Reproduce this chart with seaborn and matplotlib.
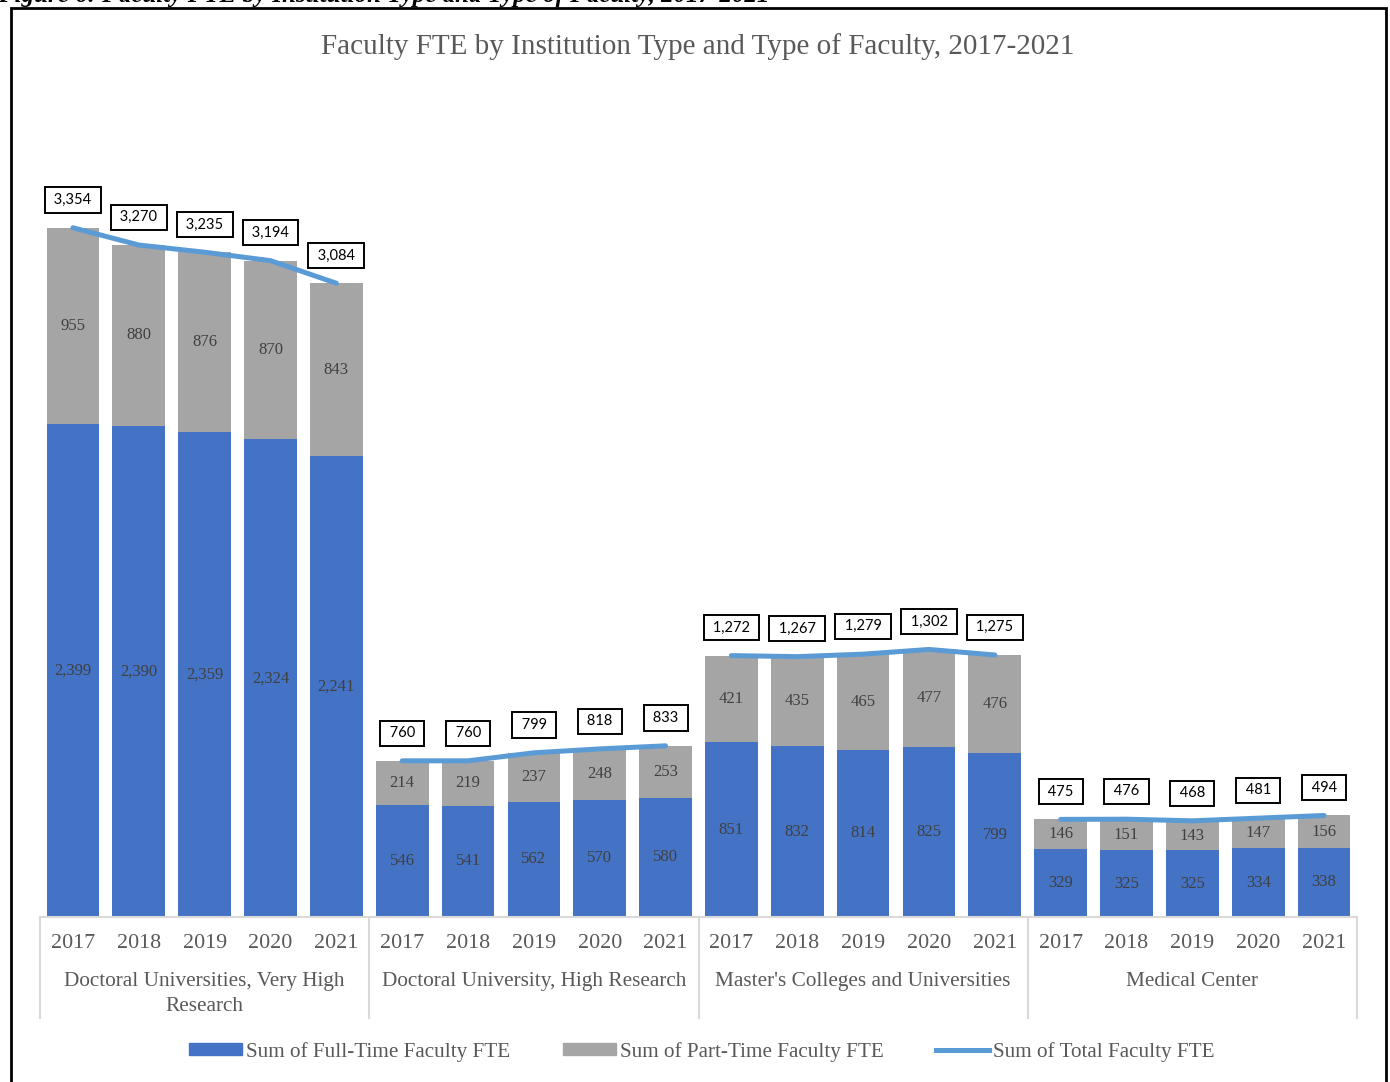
import numpy as np
import pandas as pd
import matplotlib
matplotlib.use("Agg")
import matplotlib.pyplot as plt
import matplotlib.transforms as mtransforms
from matplotlib.patches import Patch, Rectangle
from matplotlib.lines import Line2D
import seaborn as sns

# Data
groups = ["Doctoral Universities, Very High\nResearch",
          "Doctoral University, High Research",
          "Master's Colleges and Universities",
          "Medical Center"]
years = ["2017", "2018", "2019", "2020", "2021"]
full_time = [2399, 2390, 2359, 2324, 2241,
             546, 541, 562, 570, 580,
             851, 832, 814, 825, 799,
             329, 325, 325, 334, 338]
part_time = [955, 880, 876, 870, 843,
             214, 219, 237, 248, 253,
             421, 435, 465, 477, 476,
             146, 151, 143, 147, 156]
total = [3354, 3270, 3235, 3194, 3084,
         760, 760, 799, 818, 833,
         1272, 1267, 1279, 1302, 1275,
         475, 476, 468, 481, 494]

BLUE = "#4472C4"
GRAY = "#A5A5A5"
LINE = "#5B9BD5"
TXT = "#595959"
SERIF = "Liberation Serif"

df = pd.DataFrame({
    "pos": np.arange(len(total)),
    "group": np.repeat(np.arange(len(groups)), len(years)),
    "year": years * len(groups),
    "full": full_time,
    "part": part_time,
    "total": total,
})
df["stack"] = df["full"] + df["part"]

W, H = 1390, 1082
fig = plt.figure(figsize=(W / 100, H / 100), dpi=100)
ax = fig.add_axes([40 / W, 1 - 917 / H, (1357 - 40) / W, (917 - 95) / H])

# stacked bars: full+part in gray, then full-time over it in blue
sns.barplot(data=df, x="pos", y="stack", native_scale=True, color=GRAY,
            saturation=1, width=0.8, errorbar=None, linewidth=0, ax=ax)
sns.barplot(data=df, x="pos", y="full", native_scale=True, color=BLUE,
            saturation=1, width=0.8, errorbar=None, linewidth=0, ax=ax)
sns.lineplot(data=df, x="pos", y="total", units="group", estimator=None,
             color=LINE, lw=3.6, sort=False, legend=False, ax=ax,
             solid_capstyle="round")

ax.set_xlim(-0.5, len(total) - 0.5)
ax.set_ylim(0, 4000)
ax.set_xticks([])
ax.set_yticks([])
ax.set_xlabel("")
ax.set_ylabel("")
for s in ax.spines.values():
    s.set_visible(False)

# value labels
for _, r in df.iterrows():
    ax.text(r.pos, r.full / 2, f"{r.full:,}", ha="center", va="center",
            fontsize=12, family=SERIF, color="#404040")
    ax.text(r.pos, r.full + r.part / 2, f"{r.part:,}", ha="center", va="center",
            fontsize=12, family=SERIF, color="#404040")
    ax.annotate(f" {r.total:,} ", (r.pos, r.total), xytext=(0, 20),
                textcoords="offset points", ha="center", va="center",
                fontsize=10.5, family="Lato", color="#000000",
                bbox=dict(boxstyle="square,pad=0.38", fc="white", ec="black", lw=1.4))

# category axis
tr = mtransforms.blended_transform_factory(ax.transData, fig.transFigure)
def fy(px):
    return 1 - px / H
ax_line = dict(color="#D9D9D9", lw=1.5, transform=tr, clip_on=False)
fig.add_artist(Line2D([-0.5, len(total) - 0.5], [fy(917), fy(917)], **ax_line))
for b in np.arange(len(groups) + 1) * len(years) - 0.5:
    fig.add_artist(Line2D([b, b], [fy(917), fy(1018)], **ax_line))
for _, r in df.iterrows():
    fig.text(r.pos, fy(944), r.year, transform=tr, ha="center", va="center",
             fontsize=15.8, family=SERIF, color=TXT)
for i, g in enumerate(groups):
    fig.text(i * len(years) + 2, fy(972), g, transform=tr, ha="center", va="top",
             fontsize=15.3, family=SERIF, color=TXT, linespacing=1.4)

# titles
fig.text(0.502, fy(47), "Faculty FTE by Institution Type and Type of Faculty, 2017-2021",
         ha="center", va="center", fontsize=21, family=SERIF, color=TXT)
fig.text(-2 / W, fy(2), "Figure 6: Faculty FTE by Institution Type and Type of Faculty, 2017-2021",
         ha="left", va="baseline", fontsize=18, family=SERIF, weight="bold",
         style="italic", color="black")

# outer frame
fig.add_artist(Rectangle((11 / W, -0.01), (1386 - 11) / W, fy(8) + 0.01,
                         transform=fig.transFigure, fill=False, ec="black", lw=2))

# legend
handles = [Patch(color=BLUE), Patch(color=GRAY), Line2D([], [], color=LINE, lw=3.6)]
labels = ["Sum of Full-Time Faculty FTE", "Sum of Part-Time Faculty FTE",
          "Sum of Total Faculty FTE"]
fig.legend(handles, labels, loc="center", bbox_to_anchor=(0.505, fy(1052)), ncol=3,
           frameon=False, handlelength=2.5, handleheight=0.5, handletextpad=0.2,
           columnspacing=2.5, prop=dict(family=SERIF, size=15.2), labelcolor=TXT)

fig.savefig("out.png", dpi=100)
